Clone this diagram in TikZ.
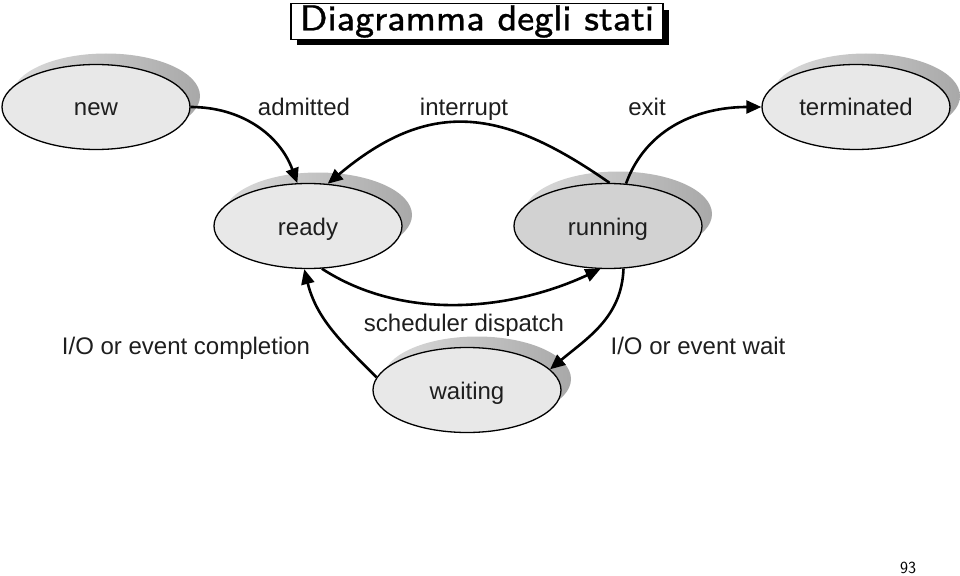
\documentclass[tikz,border=0pt]{standalone}
\usepackage{fontspec}
\newfontfamily\lab{Liberation Sans}
\newfontfamily\titlefont{lmsans8-regular}[Extension=.otf, FakeBold=0.8]
\usetikzlibrary{shapes.geometric,arrows.meta}
\definecolor{nodefill}{HTML}{E8E8E8}
\definecolor{runfill}{HTML}{D2D2D2}
\definecolor{txt}{HTML}{1E1E1E}
\tikzset{
  state/.style={ellipse, draw=black, line width=1.3pt, fill=nodefill,
    minimum width=188pt, minimum height=85pt, inner sep=0pt,
    text height=20pt, text depth=2pt,
    font=\lab\fontsize{24}{28}\selectfont, text=txt},
  shadowell/.style={left color=gray!28, right color=gray!68},
  trans/.style={line width=2.6pt, -{Triangle[length=15pt,width=13pt]}},
  lbl/.style={font=\lab\fontsize{24}{28}\selectfont, text=txt, inner sep=0pt,
    text height=20pt, text depth=2pt},
}
\begin{document}
\begin{tikzpicture}[x=1pt,y=-1pt]
\useasboundingbox (0,0) rectangle (960,575);
% title
\fill[black] (297,10) rectangle (669,45);
\node[draw=black, line width=1.8pt, fill=white, minimum width=372pt, minimum height=36pt,
  inner sep=0pt, font=\titlefont\fontsize{36}{40}\selectfont] (title) at (477,21.5)
  {Diagramma degli stati};
% shadows
\shade[shadowell] (106,96) ellipse [x radius=94pt, y radius=42.5pt];
\shade[shadowell] (866,96) ellipse [x radius=94pt, y radius=42.5pt];
\shade[shadowell] (318,215) ellipse [x radius=94pt, y radius=42.5pt];
\shade[shadowell] (618,214) ellipse [x radius=94pt, y radius=42.5pt];
\shade[shadowell] (477,379) ellipse [x radius=94pt, y radius=42.5pt];
% states
\node[state] (new) at (96,107) {new};
\node[state] (term) at (856,107) {terminated};
\node[state] (ready) at (308,226) {ready};
\node[state, fill=runfill] (run) at (608,226) {running};
\node[state] (wait) at (467,390) {waiting};
% transitions
\draw[trans] (new.east) to[out=0,in=110] (ready.104);
\draw[trans] (run.88) to[out=145,in=40,looseness=1.2] (ready.65);
\draw[trans] (run.67) to[out=70,in=180] (term.west);
\draw[trans] (ready.288) to[out=-33,in=205,looseness=0.9] (run.260);
\draw[trans] (wait.172) to[out=135,in=-76] (ready.265);
\draw[trans] (run.290) to[out=-92,in=40] (wait.14);
% labels
\node[lbl] (ladm) at (304,107) {admitted};
\node[lbl] (lint) at (464,107) {interrupt};
\node[lbl] (lexit) at (647,107) {exit};
\node[lbl] (lcomp) at (186,345) {I/O or event completion};
\node[lbl] (lsched) at (464,322) {scheduler dispatch};
\node[lbl] (lwait) at (698,345) {I/O or event wait};
\node[font=\sffamily\fontsize{17}{18}\selectfont, inner sep=0pt] (page) at (908,568) {93};
\end{tikzpicture}
\end{document}
